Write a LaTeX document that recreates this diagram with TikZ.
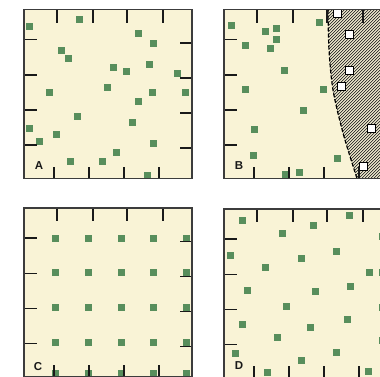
\documentclass[tikz,border=0pt]{standalone}
\usepackage{fontspec}
\setsansfont{Liberation Sans}
\definecolor{cream}{RGB}{249,243,214}
\definecolor{sqgreen}{RGB}{88,142,92}
\definecolor{framec}{RGB}{60,60,60}
\begin{document}
\begin{tikzpicture}[x=1pt,y=-1pt,
  gsq/.style={fill=sqgreen},
  wsq/.style={fill=white,draw=black,line width=1pt},
  tickl/.style={draw=black!90,line width=1.3pt},
  framel/.style={draw=framec,line width=1.4pt},
  hatchl/.style={draw=black!85,line width=0.7pt},
  bound/.style={draw=black,line width=1.2pt,dash pattern=on 4pt off 2pt},
  lab/.style={font=\sffamily\bfseries\fontsize{11.5}{11.5}\selectfont,text=black!90,inner sep=0pt}]
\useasboundingbox (0,0) rectangle (380,376);
\clip (0,0) rectangle (380,376);
\fill[white] (0,0) rectangle (380,376);
% backgrounds
\foreach \ox/\oy in {24/9.5,224/9.5,24/208,224/209}
  \fill[cream] (\ox,\oy) rectangle ++(168,169);
% hatched region in B
\begin{scope}
  \clip plot[smooth] coordinates {(328,9.5) (329,50) (333,90) (343,133) (357,178.5)} -- (392,178.5) -- (392,9.5) -- cycle;
  \foreach \c in {150,153,...,400}
    \draw[hatchl] (\c,180) -- (\c+172,8);
\end{scope}
\draw[bound] plot[smooth] coordinates {(328,9.5) (329,50) (333,90) (343,133) (357,178.5)};
% squares A
\foreach \x/\y in {29/26,79/19,138/33,153/43,61/50,68/58,113/67,126/71,149/64,177/73,
  49/92,107/87,152/92,185/92,138/101,77/116,132/122,29/128,39/141,56/134,153/143,
  116/152,70/161,102/161,147/175}
  \fill[gsq] (\x-3.5,\y-3.5) rectangle ++(7,7);
% squares B
\foreach \x/\y in {231/25,265/31,276/28,276/39,245/45,270/48,319/22,284/70,245/89,323/89,
  303/110,254/129,253/155,337/158,285/174,299/172}
  \fill[gsq] (\x-3.5,\y-3.5) rectangle ++(7,7);
\foreach \x/\y in {337/13,349/34,349/70,341/86,371/128,363/166}
  \filldraw[wsq] (\x-4,\y-4) rectangle ++(8,8);
% squares C
\foreach \x in {55,88,121,153.5,186}
  \foreach \y in {238.5,272.5,307.5,342.5,373}
    \fill[gsq] (\x-3.5,\y-3.5) rectangle ++(7,7);
% squares D
\foreach \x/\y in {242/220,282/233,313/225,349/215,230/255,265/267,301/258,336/251,369/272,
  247/290,315/291,350/286,286/306,242/324,310/327,347/319,277/337,235/353,301/360,336/352,
  267/372,368/371,382.5/236,382.5/272,382.5/307,382.5/340}
  \fill[gsq] (\x-3.5,\y-3.5) rectangle ++(7,7);
% ticks and frames
\foreach \ox/\oy in {24/9.5,224/9.5,24/208,224/209}{
  \begin{scope}[shift={(\ox,\oy)}]
    \foreach \t in {33,69,103,139} \draw[tickl] (\t,0) -- (\t,13);
    \foreach \t in {30,65,100,135} \draw[tickl] (\t,169) -- (\t,157);
    \foreach \t in {30,65.5,100.5,135.5} \draw[tickl] (0,\t) -- (13,\t);
    \foreach \t in {33.5,68.5,103.5,138.5} \draw[tickl] (168,\t) -- (156,\t);
    \draw[framel] (0,0) rectangle (168,169);
  \end{scope}}
% labels
\node[lab] (la) at (39,166) {A};
\node[lab] (lb) at (239,166) {B};
\node[lab] (lc) at (38,367) {C};
\node[lab] (ld) at (239,366) {D};
\end{tikzpicture}
\end{document}
